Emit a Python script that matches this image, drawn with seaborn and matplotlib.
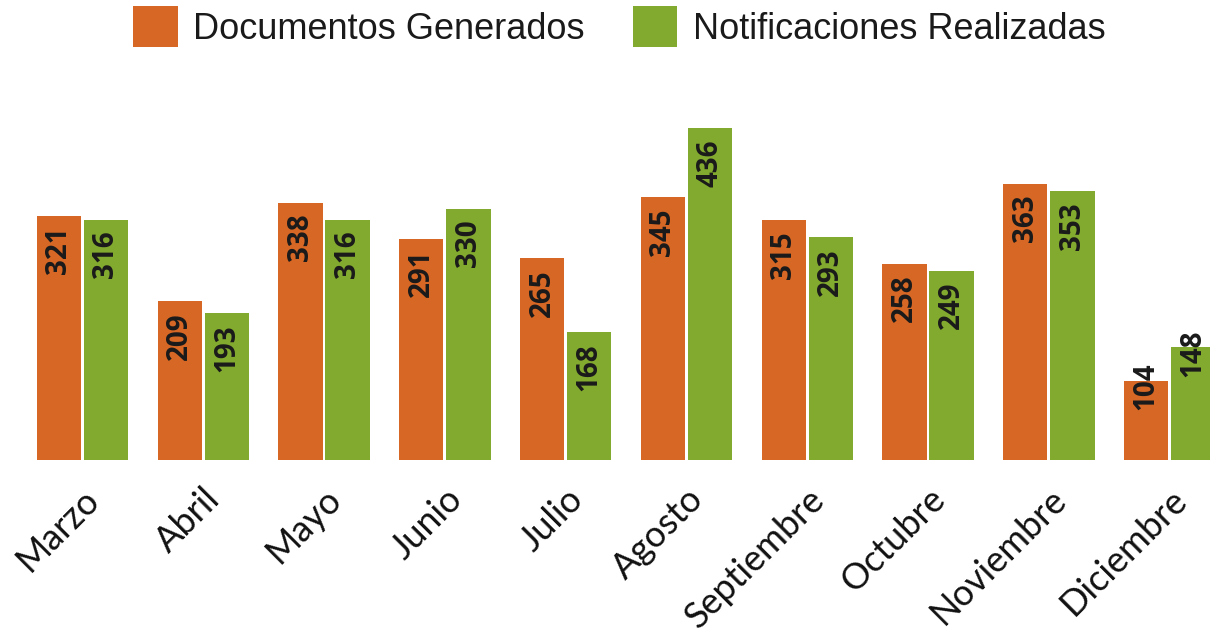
import matplotlib
matplotlib.use("Agg")
import matplotlib.pyplot as plt
import seaborn as sns
import pandas as pd
import numpy as np

meses = ["Marzo", "Abril", "Mayo", "Junio", "Julio", "Agosto",
         "Septiembre", "Octubre", "Noviembre", "Diciembre"]
documentos = [321, 209, 338, 291, 265, 345, 315, 258, 363, 104]
notificaciones = [316, 193, 316, 330, 168, 436, 293, 249, 353, 148]
series = ["Documentos Generados", "Notificaciones Realizadas"]
colores = ["#D66724", "#82AA2E"]

df = pd.DataFrame({
    "Mes": meses * 2,
    "Valor": documentos + notificaciones,
    "Serie": [series[0]] * len(meses) + [series[1]] * len(meses),
})

sns.set_theme(style="white")
fig = plt.figure(figsize=(12.10, 6.34), dpi=100)
W, H = 1210, 634
ax = fig.add_axes([0, (H - 460) / H, 1, 360 / H])

sns.barplot(data=df, x="Mes", y="Valor", hue="Serie", palette=colores,
            order=meses, hue_order=series, width=0.78, gap=0.06,
            saturation=1, ax=ax, legend=False, linewidth=0)

ax.set_xlim(-0.5 - 22 / 120.8, (1210 - 82.5) / 120.8)
ax.set_ylim(0, 360 / 0.761)
sns.despine(ax=ax, left=True, bottom=True, top=True, right=True)
ax.set_yticks([])
ax.set_ylabel("")
ax.set_xlabel("")

for cont in ax.containers:
    for bar in cont:
        v = bar.get_height()
        xc = bar.get_x() + bar.get_width() / 2
        if v < 150:
            off = 18
        else:
            off = -11
        ax.annotate(f"{int(round(v))}", (xc, v), xytext=(0, off * 0.72),
                    textcoords="offset points", rotation=90,
                    ha="center", va="top", fontsize=20, fontweight="bold",
                    family="Open Sans", color="#1a1a1a")

ax.set_xticks(range(len(meses)))
ax.set_xticklabels(meses, rotation=45, ha="right", va="top",
                   rotation_mode="anchor", fontsize=26, family="Lato",
                   color="#111111")
ax.tick_params(axis="x", length=0, pad=16)

from matplotlib.patches import Patch
handles = [Patch(facecolor=c, edgecolor="none") for c in colores]
leg = fig.legend(handles, series, loc="upper center", bbox_to_anchor=(0.512, 1.03),
                 ncol=2, frameon=False,
                 prop={"family": "Liberation Sans", "size": 26},
                 handlelength=1.22, handleheight=1.35, columnspacing=1.33,
                 handletextpad=0.44, borderpad=0.2)
for t in leg.get_texts():
    t.set_color("#1a1a1a")

fig.savefig("out.png", dpi=100)
